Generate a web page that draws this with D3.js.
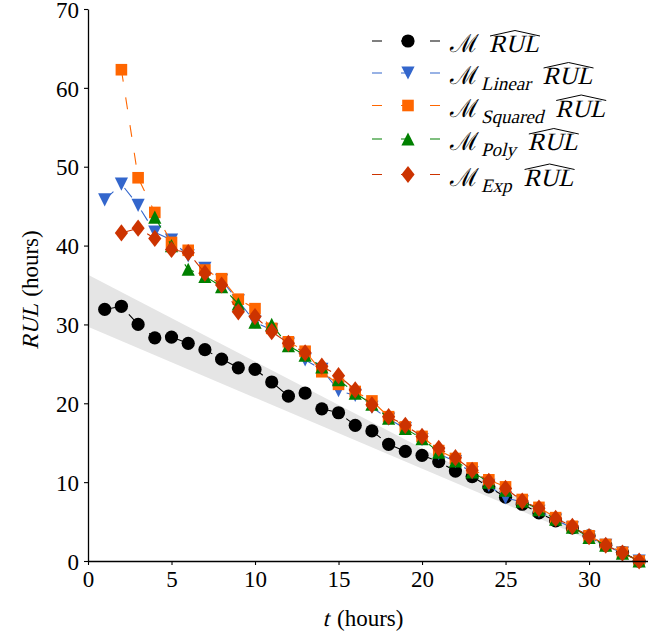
<!DOCTYPE html>
<html><head><meta charset="utf-8">
<script src="https://cdn.jsdelivr.net/npm/d3@7"></script>
<style>
html,body{margin:0;padding:0;background:#fff;}
svg{display:block;}
</style></head>
<body>
<svg id="chart" width="659" height="634"></svg>
<script>
// ---- data ----
const hours = [1,2,3,4,5,6,7,8,9,10,11,12,13,14,15,16,17,18,19,20,21,22,23,24,25,26,27,28,29,30,31,32,33];
const rulM = [31.9,32.3,30.0,28.3,28.4,27.6,26.8,25.6,24.5,24.3,22.7,20.9,21.3,19.3,18.8,17.2,16.5,14.8,13.9,13.4,12.6,11.4,10.7,9.4,8.1,7.2,6.1,5.1,4.2,3.2,2.0,1.1,0.0];
const rulLinear = [45.8,47.8,45.1,41.7,40.7,38.7,37.1,35.6,33.0,30.3,29.3,27.5,25.5,24.3,21.6,21.0,19.5,18.0,16.8,15.4,13.6,12.6,11.2,9.6,8.0,7.5,6.3,5.2,4.2,3.0,2.0,1.0,0.0];
const rulSquared = [null,62.3,48.6,44.2,40.4,39.4,36.9,35.8,33.2,32.0,29.5,27.8,26.6,24.0,22.4,21.5,20.3,18.3,17.0,15.8,14.0,13.0,11.8,10.3,9.4,7.8,6.8,5.5,4.4,3.2,2.1,1.1,0.0];
const rulPoly = [null,null,null,43.6,40.0,37.0,36.1,34.8,32.6,30.3,30.0,27.3,26.1,24.6,23.0,21.3,19.9,18.1,16.8,15.5,13.8,12.7,11.3,10.0,9.0,7.6,6.5,5.3,4.3,3.0,2.0,1.0,0.0];
const rulExp = [null,41.6,42.2,40.9,39.5,39.1,36.5,35.0,31.6,31.0,29.1,27.6,26.4,24.7,23.5,21.7,19.8,18.3,17.2,15.8,14.3,13.1,11.5,10.1,9.2,7.6,6.7,5.4,4.4,3.1,2.0,1.0,0.0];
// shaded +-10% band around the true RUL
const bandT = [0,33];
const bandLow = [29.7,0];
const bandHigh = [36.3,0];
const xTicks = [0,5,10,15,20,25,30];
const yTicks = [0,10,20,30,40,50,60,70];
const seriesNames = ["", "Linear", "Squared", "Poly", "Exp"];

// ---- setup ----
const FONT = '"Liberation Serif", serif';
const svg = d3.select("#chart");
const x = d3.scaleLinear().domain([0,33.5]).range([88,647.5]);
const y = d3.scaleLinear().domain([0,70]).range([561,9]);

const series = [
  {vals:rulM, color:"#000000", marker:"circle"},
  {vals:rulLinear, color:"#3366cc", marker:"tridown"},
  {vals:rulSquared, color:"#ff6600", marker:"square"},
  {vals:rulPoly, color:"#008000", marker:"triup"},
  {vals:rulExp, color:"#cc3300", marker:"diamond"}
];

function markerPath(type){
  switch(type){
    case "circle": return d3.arc()({innerRadius:0,outerRadius:6.6,startAngle:0,endAngle:2*Math.PI});
    case "tridown": return "M-6.6,-6.6L6.6,-6.6L0,6.6Z";
    case "triup": return "M-6.6,6.6L6.6,6.6L0,-6.6Z";
    case "square": return "M-5.8,-5.8L5.8,-5.8L5.8,5.8L-5.8,5.8Z";
    case "diamond": return "M0,-8.6L6.6,0L0,8.6L-6.6,0Z";
  }
}

// text helpers: upright text and synthetic italic (skewed) text; return width
function txt(parent, x0, y0, str, size){
  const t = parent.append("text").attr("x",x0).attr("y",y0).attr("font-size",size)
    .style("font-family",FONT).attr("fill","#000").text(str);
  return t.node().getComputedTextLength();
}
function itx(parent, x0, y0, str, size){
  const t = parent.append("text").attr("transform",`translate(${x0},${y0}) skewX(-14)`)
    .attr("font-size",size).style("font-family",FONT).attr("fill","#000").text(str);
  return t.node().getComputedTextLength();
}
function measure(str, size){
  const t = svg.append("text").attr("font-size",size).style("font-family",FONT).text(str);
  const w = t.node().getComputedTextLength(); t.remove(); return w;
}

// band
const bandData = bandT.map((t,i)=>({t, lo:bandLow[i], hi:bandHigh[i]}));
svg.append("path").datum(bandData)
  .attr("d", d3.area().x(d=>x(d.t)).y0(d=>y(d.lo)).y1(d=>y(d.hi)))
  .attr("fill","#e5e5e5");

// series
series.forEach(s=>{
  const pts = hours.map((t,i)=>({t, v:s.vals[i]})).filter(d=>d.v!==null);
  svg.append("path").datum(pts)
    .attr("d", d3.line().x(d=>x(d.t)).y(d=>y(d.v)))
    .attr("fill","none").attr("stroke",s.color).attr("stroke-width",1.1)
    .attr("stroke-dasharray","12,16");
  svg.append("g").selectAll("path").data(pts).join("path")
    .attr("transform",d=>`translate(${x(d.t)},${y(d.v)})`)
    .attr("d",markerPath(s.marker))
    .attr("fill",s.color);
});

// axes
const fs = 23;
const xAxis = svg.append("g").attr("transform",`translate(0,${y(0)})`)
  .call(d3.axisBottom(x).tickValues(xTicks).tickSize(4).tickSizeOuter(0).tickPadding(6));
const yAxis = svg.append("g").attr("transform",`translate(${x(0)},0)`)
  .call(d3.axisLeft(y).tickValues(yTicks).tickSize(4).tickSizeOuter(0).tickPadding(5));
[xAxis,yAxis].forEach(a=>{
  a.attr("font-family",null);
  a.selectAll("path.domain").attr("stroke","#000").attr("stroke-width",1.3);
  a.selectAll(".tick line").attr("stroke","#000").attr("stroke-width",1.1);
  a.selectAll("text").style("font-family",FONT).attr("font-size",fs).attr("fill","#000");
});
yAxis.selectAll(".tick text").attr("dy","0.36em");

// x label
{
  const g = svg.append("g");
  const gap = 8;
  const wT = measure("t", fs), wH = measure("(hours)", fs);
  const x0 = 363 - (wT+gap+wH)/2;
  itx(g, x0, 626, "t", fs);
  txt(g, x0+wT+gap, 626, "(hours)", fs);
}
// y label
{
  const g = svg.append("g").attr("transform","translate(38,290) rotate(-90)");
  const gap = 7;
  const wR = measure("RUL", fs), wH = measure("(hours)", fs);
  const x0 = -(wR+gap+wH)/2;
  itx(g, x0, 0, "RUL", fs);
  txt(g, x0+wR+gap, 0, "(hours)", fs);
}

// legend
const legY = [41,73,105.5,139,174.5];
series.forEach((s,i)=>{
  const g = svg.append("g").attr("transform",`translate(0,${legY[i]})`);
  g.append("line").attr("x1",372).attr("x2",443).attr("y1",0).attr("y2",0)
    .attr("stroke",s.color).attr("stroke-width",1.1).attr("stroke-dasharray","10,19");
  g.append("path").attr("transform","translate(408,0)").attr("d",markerPath(s.marker)).attr("fill",s.color);
  let cx = 450;
  cx += txt(g, cx, 11, "\u2133", fs+2);
  if(seriesNames[i]){
    cx += 2;
    cx += itx(g, cx, 17, seriesNames[i], 19);
    cx += 12;
  } else {
    cx += 10;
  }
  const rw = itx(g, cx, 11, "RUL", fs+2);
  g.append("path").attr("d",`M${cx+1},-5 L${cx+rw/2+1},-10.5 L${cx+rw+1},-5`)
    .attr("fill","none").attr("stroke","#000").attr("stroke-width",1);
});
</script>
</body></html>
